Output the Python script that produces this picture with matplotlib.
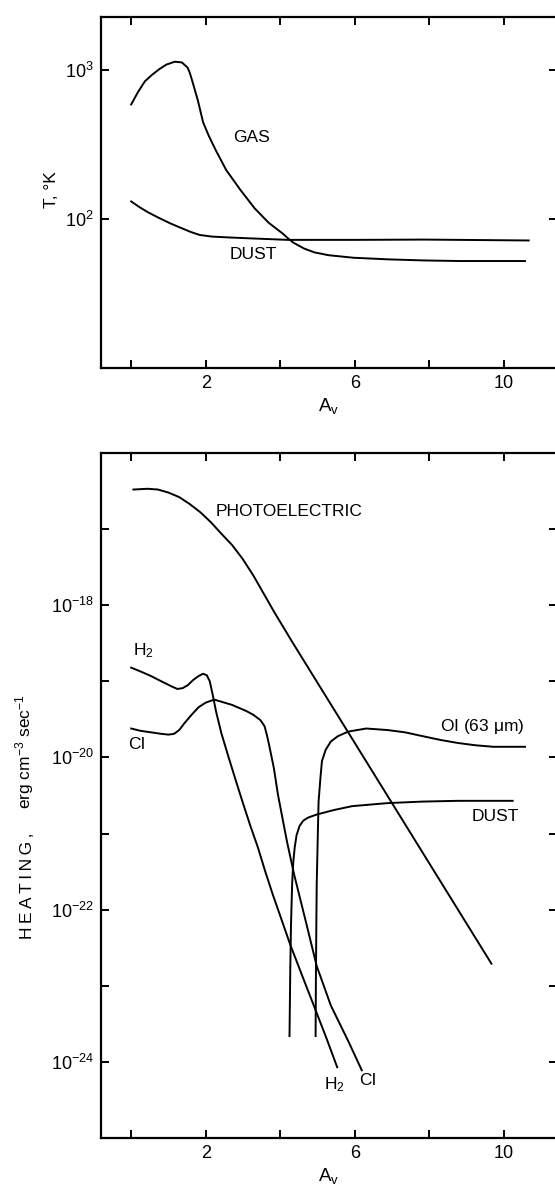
import matplotlib
matplotlib.use("Agg")
import matplotlib.pyplot as plt
import numpy as np

plt.rcParams['font.family'] = ['Liberation Sans', 'DejaVu Sans']
plt.rcParams['mathtext.default'] = 'regular'

# ---- Temperature profiles (log10 T) ----
gas_av = [0.0, 0.18, 0.37, 0.56, 0.75, 0.94, 1.17, 1.36, 1.51, 1.57, 1.65,
          1.79, 1.93, 2.08, 2.27, 2.55, 2.93, 3.31, 3.69, 4.07, 4.21, 4.35,
          4.64, 4.92, 5.30, 5.97, 6.92, 7.86, 8.81, 10.57]
gas_logT = [2.769, 2.851, 2.925, 2.968, 3.005, 3.036, 3.056, 3.051, 3.018,
            2.984, 2.918, 2.796, 2.650, 2.560, 2.462, 2.329, 2.196, 2.073,
            1.975, 1.902, 1.870, 1.842, 1.802, 1.776, 1.757, 1.740, 1.729,
            1.722, 1.718, 1.718]

dust_av = [0.0, 0.22, 0.46, 0.75, 1.03, 1.32, 1.60, 1.84, 2.17, 2.65, 3.31,
           4.21, 5.97, 7.86, 10.67]
dust_logT = [2.118, 2.080, 2.044, 2.007, 1.973, 1.942, 1.913, 1.893, 1.882,
             1.876, 1.869, 1.860, 1.860, 1.862, 1.856]

# ---- Heating rates (log10 erg cm^-3 s^-1) ----
pe_av = [0.06, 0.44, 0.72, 1.00, 1.29, 1.57, 1.86, 2.14, 2.42, 2.71, 2.99,
         3.28, 3.56, 3.84, 4.32, 9.67]
pe_log = [-16.48, -16.47, -16.48, -16.52, -16.58, -16.67, -16.78, -16.91,
          -17.06, -17.21, -17.39, -17.61, -17.85, -18.09, -18.48, -22.71]

h2_av = [0.0, 0.25, 0.53, 0.81, 1.10, 1.24, 1.38, 1.52, 1.67, 1.81, 1.93,
         2.03, 2.11, 2.19, 2.28, 2.42, 2.61, 2.80, 3.0, 3.2, 3.4, 3.6, 3.8,
         4.0, 4.27, 4.6, 4.95, 5.25, 5.53]
h2_log = [-18.82, -18.87, -18.93, -19.00, -19.07, -19.10, -19.09, -19.05,
          -18.98, -18.93, -18.90, -18.92, -19.00, -19.18, -19.40, -19.68,
          -19.99, -20.29, -20.60, -20.90, -21.18, -21.50, -21.80, -22.08,
          -22.46, -22.88, -23.32, -23.70, -24.07]

ci_av = [0.0, 0.25, 0.53, 0.81, 1.0, 1.15, 1.29, 1.43, 1.62, 1.81, 2.0,
         2.23, 2.71, 3.09, 3.28, 3.47, 3.58, 3.64, 3.70, 3.83, 3.94, 4.18,
         4.37, 4.70, 4.98, 5.36, 5.83, 6.19]
ci_log = [-19.62, -19.65, -19.67, -19.69, -19.70, -19.69, -19.64, -19.55,
          -19.44, -19.34, -19.28, -19.24, -19.31, -19.39, -19.44, -19.51,
          -19.59, -19.70, -19.83, -20.14, -20.49, -21.10, -21.53, -22.18,
          -22.74, -23.26, -23.73, -24.11]

dustheat_av = [4.25, 4.27, 4.29, 4.32, 4.35, 4.39, 4.44, 4.52, 4.62, 4.75,
               4.98, 5.45, 5.93, 6.88, 7.82, 8.77, 10.24]
dustheat_log = [-23.66, -22.8, -22.2, -21.67, -21.38, -21.18, -21.02, -20.90,
                -20.83, -20.79, -20.75, -20.69, -20.64, -20.60, -20.58,
                -20.57, -20.57]

oi_av = [4.95, 4.96, 4.97, 4.98, 5.01, 5.03, 5.08, 5.12, 5.22, 5.36, 5.55,
         5.83, 6.31, 6.88, 7.35, 7.82, 8.30, 8.77, 9.24, 9.72, 10.57]
oi_log = [-23.66, -22.8, -22.2, -21.67, -21.01, -20.58, -20.27, -20.05,
          -19.90, -19.79, -19.72, -19.66, -19.62, -19.64, -19.67, -19.72,
          -19.77, -19.81, -19.84, -19.86, -19.86]

x_ticks = [0, 2, 4, 6, 8, 10]
x_ticklabels = ['', '2', '', '6', '', '10']

W, H = 555, 1186
fig = plt.figure(figsize=(W / 100, H / 100), dpi=100)


def px_axes(left, top, right, bottom):
    return fig.add_axes([left / W, 1 - bottom / H, (right - left) / W,
                         (bottom - top) / H])


LW = 1.4
SPW = 1.6
FS = 12.5


def style(ax):
    for s in ax.spines.values():
        s.set_linewidth(SPW)
    ax.set_xlim(-0.81, 11.43)
    ax.set_xticks(x_ticks)
    ax.set_xticklabels(x_ticklabels)
    ax.tick_params(which='both', direction='in', top=True, right=True,
                   length=6, width=1.4, labelsize=13, pad=5)
    ax.yaxis.set_minor_locator(matplotlib.ticker.NullLocator())


# Upper panel: gas and dust temperature
ax1 = px_axes(101, 17, 557, 368)
ax1.plot(gas_av, 10 ** np.array(gas_logT), color='black', lw=LW)
ax1.plot(dust_av, 10 ** np.array(dust_logT), color='black', lw=LW)
ax1.set_yscale('log')
ax1.set_ylim(10, 10 ** 3.356)
style(ax1)
ax1.set_yticks([1e2, 1e3])
ax1.set_yticklabels(['$10^2$', '$10^3$'])
ax1.yaxis.set_minor_locator(matplotlib.ticker.NullLocator())
ax1.text(2.74, 10 ** 2.55, 'GAS', fontsize=FS, ha='left', va='center')
ax1.text(2.64, 10 ** 1.76, 'DUST', fontsize=FS, ha='left', va='center')
ax1.set_xlabel('$A_v$', fontsize=13.5, labelpad=3)
fig.text(52 / W, 1 - 190 / H, 'T, °K', rotation=90, ha='center',
         va='center', fontsize=FS)

# Lower panel: heating rates
ax2 = px_axes(101, 453, 557, 1138)
for xs, ys in [(pe_av, pe_log), (h2_av, h2_log), (ci_av, ci_log),
               (dustheat_av, dustheat_log), (oi_av, oi_log)]:
    ax2.plot(xs, 10 ** np.array(ys), color='black', lw=LW)
ax2.set_yscale('log')
ax2.set_ylim(1e-25, 1e-16)
style(ax2)
ax2.set_yticks([10.0 ** e for e in range(-24, -16)])
ax2.set_yticklabels(['$10^{%d}$' % e if e % 2 == 0 else ''
                     for e in range(-24, -16)])
ax2.yaxis.set_minor_locator(matplotlib.ticker.NullLocator())
ax2.text(2.28, 10 ** -16.77, 'PHOTOELECTRIC', fontsize=FS, ha='left',
         va='center')
ax2.text(0.04, 10 ** -18.6, '$H_2$', fontsize=FS, ha='left', va='center')
ax2.text(-0.09, 10 ** -19.83, 'CI', fontsize=FS, ha='left', va='center')
ax2.text(10.55, 10 ** -19.59, 'OI (63 $\\mu$m)', fontsize=FS, ha='right',
         va='center')
ax2.text(10.4, 10 ** -20.77, 'DUST', fontsize=FS, ha='right', va='center')
ax2.text(5.45, 10 ** -24.3, '$H_2$', fontsize=FS, ha='center', va='center')
ax2.text(6.35, 10 ** -24.25, 'CI', fontsize=FS, ha='center', va='center')
ax2.set_xlabel('$A_v$', fontsize=13.5, labelpad=3)
# slightly spaced-out capitals for the quantity name
heating = '\u2009'.join('HEATING,')
fig.text(27 / W, 1 - 886 / H, heating, rotation=90, ha='center',
         va='center', fontsize=12.5)
fig.text(25 / W, 1 - 752 / H, 'erg cm$^{-3}$ sec$^{-1}$', rotation=90,
         ha='center', va='center', fontsize=12.5)

fig.savefig('out.png', dpi=100)
